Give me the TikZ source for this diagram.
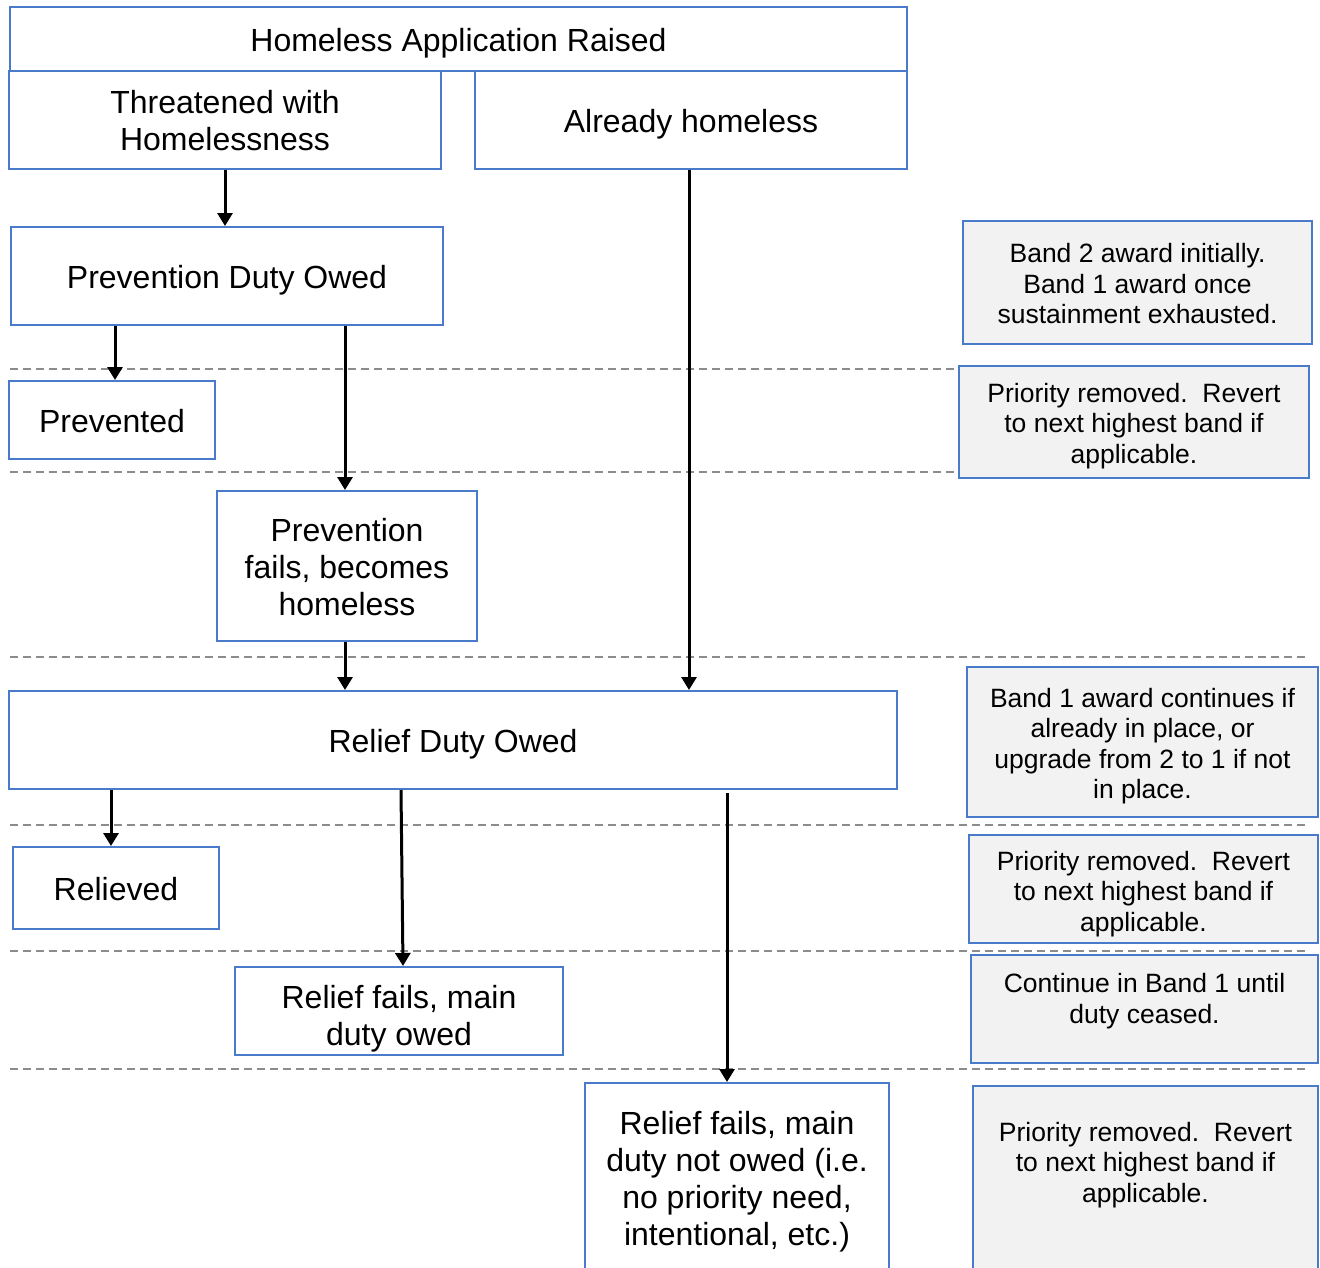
\documentclass[tikz,border=0pt]{standalone}
\usepackage{fontspec}
\setmainfont{Liberation Sans}
\usetikzlibrary{arrows.meta}
\definecolor{bblue}{HTML}{4A7BCB}
\definecolor{sgray}{HTML}{F2F2F2}
\definecolor{dgray}{HTML}{8C8C8C}
\newcommand{\tx}[2]{\raisebox{#1}[\height][\depth]{\begin{tabular}{@{}c@{}}#2\end{tabular}}}
\begin{document}
\begin{tikzpicture}[x=1pt,y=-1pt,
 box/.style={draw=bblue, line width=2pt, fill=white, inner sep=0pt, font={\fontsize{32}{37}\selectfont}},
 side/.style={draw=bblue, line width=2pt, fill=sgray, inner sep=0pt, font={\fontsize{26.5}{30.5}\selectfont}},
 arr/.style={line width=3pt, -{Triangle[width=15pt,length=13pt]}},
 sep/.style={dgray, line width=1.5pt, dash pattern=on 8pt off 5pt}]
\useasboundingbox (0,0) rectangle (1320,1267);
\fill[white] (0,0) rectangle (1320,1267);

% separators
\draw[sep] (10,369) -- (957,369);
\draw[sep] (10,472) -- (957,472);
\draw[sep] (10,657) -- (1307,657);
\draw[sep] (10,825) -- (1307,825);
\draw[sep] (10,951) -- (1307,951);
\draw[sep] (10,1069) -- (1307,1069);

% main boxes
\node[box, minimum width=897pt, minimum height=64pt] (raised) at (458.5,39) {\tx{-5pt}{Homeless Application Raised}};
\node[box, minimum width=432pt, minimum height=98pt] (threat) at (225,120) {\tx{-5pt}{Threatened with\\Homelessness}};
\node[box, minimum width=432pt, minimum height=98pt] (already) at (691,120) {\tx{-5pt}{Already homeless}};
\node[box, minimum width=432pt, minimum height=98pt] (prevduty) at (227,276) {\tx{-5pt}{Prevention Duty Owed}};
\node[box, minimum width=206pt, minimum height=78pt] (prevented) at (112,420) {\tx{-5pt}{Prevented}};
\node[box, minimum width=260pt, minimum height=150pt] (prevfail) at (347,566) {\tx{-5pt}{Prevention\\fails, becomes\\homeless}};
\node[box, minimum width=888pt, minimum height=98pt] (relief) at (453,740) {\tx{-5pt}{Relief Duty Owed}};
\node[box, minimum width=206pt, minimum height=82pt] (relieved) at (116,888) {\tx{-5pt}{Relieved}};
\node[box, minimum width=328pt, minimum height=88pt] (mainowed) at (399,1011) {\tx{-9pt}{Relief fails, main\\duty owed}};
\node[box, minimum width=304pt, minimum height=190pt] (notowed) at (737,1178) {\tx{-5pt}{Relief fails, main\\duty not owed (i.e.\\no priority need,\\intentional, etc.)}};

% side notes
\node[side, minimum width=349pt, minimum height=123pt] (s1) at (1137.5,282.5) {\tx{-4.5pt}{Band 2 award initially.\\Band 1 award once\\sustainment exhausted.}};
\node[side, minimum width=350pt, minimum height=112pt] (s2) at (1134,422) {\tx{-4.75pt}{Priority removed.\ \ Revert\\to next highest band if\\applicable.}};
\node[side, minimum width=351pt, minimum height=150pt] (s3) at (1142.5,742) {\tx{-4.75pt}{Band 1 award continues if\\already in place, or\\upgrade from 2 to 1 if not\\in place.}};
\node[side, minimum width=349pt, minimum height=108pt] (s4) at (1143.5,889) {\tx{-5.75pt}{Priority removed.\ \ Revert\\to next highest band if\\applicable.}};
\node[side, minimum width=347pt, minimum height=108pt] (s5) at (1144.5,1009) {\tx{7.25pt}{Continue in Band 1 until\\duty ceased.}};
\node[side, minimum width=345pt, minimum height=194pt] (s6) at (1145.5,1183) {\tx{17.25pt}{Priority removed.\ \ Revert\\to next highest band if\\applicable.}};

% connector x positions
\coordinate (xa) at (225,0);
\coordinate (xb) at (115,0);
\coordinate (xc) at (345,0);
\coordinate (xd) at (689,0);
\coordinate (xe) at (111,0);
\coordinate (xf) at (401,0);
\coordinate (xg) at (403,0);
\coordinate (xh) at (727,0);

\draw[arr] (threat.south -| xa) -- (prevduty.north -| xa);
\draw[arr] (prevduty.south -| xb) -- (prevented.north -| xb);
\draw[arr] (prevduty.south -| xc) -- (prevfail.north -| xc);
\draw[arr] (already.south -| xd) -- (relief.north -| xd);
\draw[arr] (prevfail.south -| xc) -- (relief.north -| xc);
\draw[arr] (relief.south -| xe) -- (relieved.north -| xe);
\draw[arr] (relief.south -| xf) -- (mainowed.north -| xg);
\draw[arr, shorten <=3pt] (relief.south -| xh) -- (notowed.north -| xh);
\end{tikzpicture}
\end{document}
